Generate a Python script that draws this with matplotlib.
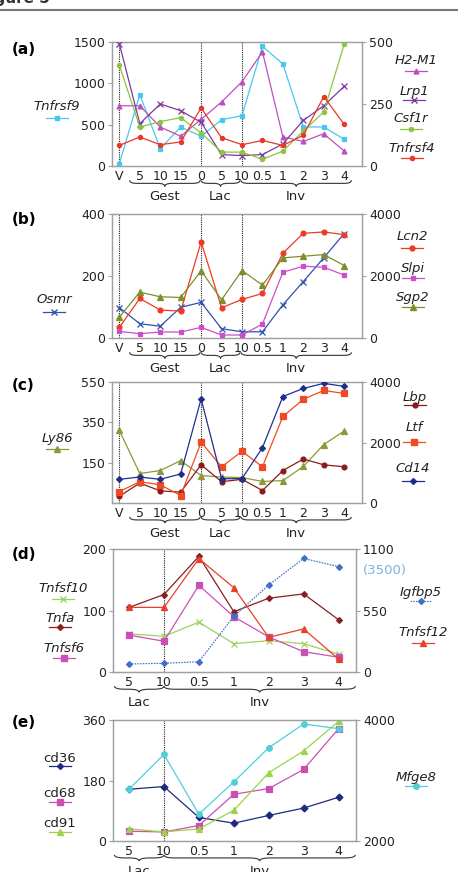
import numpy as np
import matplotlib
matplotlib.use("Agg")
import matplotlib.pyplot as plt
from matplotlib.lines import Line2D
from matplotlib.path import Path
from matplotlib.patches import PathPatch
import matplotlib.transforms as mtransforms

W, H = 458, 872

# ---- data ----
ticks_long = ["V", "5", "10", "15", "0", "5", "10", "0.5", "1", "2", "3", "4"]
ticks_short = ["5", "10", "0.5", "1", "2", "3", "4"]

# panel a (Tnfrsf9 left axis, others right axis)
tnfrsf9 = [28, 863, 210, 472, 359, 560, 609, 1448, 1234, 472, 472, 323]
h2m1 = [243, 243, 157, 120, 188, 258, 340, 460, 117, 99, 130, 60]
lrp1 = [493, 171, 250, 223, 176, 46, 42, 46, 89, 184, 243, 321]
csf1r = [406, 157, 179, 195, 133, 56, 56, 27, 60, 141, 218, 491]
tnfrsf4 = [83, 117, 86, 97, 234, 114, 86, 103, 83, 124, 280, 168]

# panel b (Osmr left, others right)
osmr = [98, 46, 38, 99, 115, 30, 20, 20, 107, 182, 259, 337]
lcn2 = [343, 1276, 901, 869, 3099, 976, 1244, 1437, 2735, 3378, 3421, 3335]
slpi = [214, 139, 193, 193, 343, 97, 97, 450, 2123, 2316, 2284, 2027]
sgp2 = [676, 1480, 1330, 1308, 2166, 1233, 2177, 1705, 2584, 2638, 2692, 2338]

# panel c (Ly86 left, others right)
ly86 = [310, 96, 111, 160, 86, 79, 76, 57, 61, 131, 240, 307]
lbp = [223, 659, 402, 358, 1263, 704, 782, 413, 1073, 1453, 1263, 1196]
ltf = [380, 704, 603, 246, 2011, 1196, 1709, 1196, 2860, 3430, 3721, 3620]
cd14 = [782, 860, 782, 961, 3441, 804, 804, 1832, 3520, 3788, 3955, 3855]

# panel d (Tnfsf10, Tnfa, Tnfsf6 left; Igfbp5, Tnfsf12 right)
tnfsf10 = [62, 58, 81, 46, 51, 46, 29]
tnfa = [105, 126, 188, 98, 120, 127, 85]
tnfsf6 = [60, 50, 141, 90, 57, 33, 24]
igfbp5 = [72, 78, 92, 498, 778, 1016, 942]
tnfsf12 = [578, 578, 1014, 754, 310, 385, 116]

# panel e (cd36, cd68, cd91 left; Mfge8 right)
cd36 = [154, 162, 70, 53, 76, 98, 130]
cd68 = [29, 27, 46, 139, 156, 213, 334]
cd91 = [36, 27, 36, 91, 203, 268, 356]
mfge8 = [2856, 3431, 2442, 2978, 3541, 3934, 3856]

braces_long = [("Gest", 0.5, 3.95), ("Lac", 4.0, 5.9), ("Inv", 5.95, 11.35)]
braces_short = [("Lac", -0.42, 1.0), ("Inv", 1.0, 6.48)]

GRAY = "#a0a0a0"
TXT = "#222222"


def px_axes(l, t, r, b):
    return plt.gcf().add_axes([l / W, 1 - b / H, (r - l) / W, (b - t) / H])


def style(ax, labels, xlim):
    for s in ax.spines.values():
        s.set_color(GRAY)
        s.set_linewidth(0.9)
    ax.set_xlim(*xlim)
    ax.set_xticks(range(len(labels)))
    ax.set_xticklabels(labels)
    ax.tick_params(axis="x", length=0, pad=3, labelsize=9, colors=TXT)
    ax.tick_params(axis="y", length=3, width=0.8, color=GRAY, pad=2,
                   labelsize=9, labelcolor=TXT)


def brace(ax, x0, x1, label, r):
    tr = mtransforms.blended_transform_factory(ax.transData, ax.transAxes)
    y0 = -0.115
    h = 0.05
    xm = (x0 + x1) / 2
    yh = y0 - h / 2
    verts = [(x0, y0), (x0, yh), (x0 + r, yh), (xm - r, yh), (xm, yh), (xm, y0 - h),
             (xm, yh), (xm + r, yh), (x1 - r, yh), (x1, yh), (x1, y0)]
    codes = [Path.MOVETO, Path.CURVE3, Path.CURVE3, Path.LINETO, Path.CURVE3, Path.CURVE3,
             Path.CURVE3, Path.CURVE3, Path.LINETO, Path.CURVE3, Path.CURVE3]
    ax.add_patch(PathPatch(Path(verts, codes), transform=tr, fill=False,
                           lw=0.8, color="#333333", clip_on=False))
    ax.text(xm, y0 - h - 0.03, label, transform=tr, ha="center", va="top",
            fontsize=9.5, color=TXT)


def vlines(ax, xs):
    for x in xs:
        ax.axvline(x, color="#222222", ls=(0, (1, 1)), lw=0.8, zorder=1)


def leg(xc, ty, ly, label, color, marker, ls="-", italic=True, ms=4):
    fig = plt.gcf()
    fig.text(xc / W, 1 - ty / H, label, ha="center", va="center", fontsize=9.5,
             style="italic" if italic else "normal", color=TXT)
    fig.add_artist(Line2D([(xc - 11) / W, xc / W, (xc + 11) / W], [1 - ly / H] * 3,
                          color=color, lw=0.9, ls=ls, marker=marker, ms=ms,
                          markevery=[1], transform=fig.transFigure))


def series(ax, y, color, marker, ls="-", ms=4):
    ax.plot(range(len(y)), y, color=color, marker=marker, ms=ms, lw=0.9, ls=ls,
            markeredgewidth=0.9, zorder=3)


fig = plt.figure(figsize=(W / 100, H / 100), dpi=100)

# header (cut off at the top, as in the source page)
fig.text(-0.045, 1 + 2 / H, "Figure 5", fontsize=11, fontweight="bold", ha="left",
         va="center", color="#333333")
fig.add_artist(Line2D([0, 1], [1 - 10 / H] * 2, color="#777777", lw=1.5,
                      transform=fig.transFigure))

xl = (-0.36, 11.87)
xs = (-0.46, 6.5)

# ---- (a) ----
ax = px_axes(112, 42, 362, 166)
style(ax, ticks_long, xl)
ax2 = ax.twinx()
style(ax2, ticks_long, xl)
vlines(ax, [0, 4, 6])
series(ax, tnfrsf9, "#48c8ee", "s", ms=3.5)
series(ax2, h2m1, "#bd4fbd", "^", ms=3.5)
series(ax2, lrp1, "#7b3a9e", "x", ms=4)
series(ax2, csf1r, "#8cc540", "o", ms=3)
series(ax2, tnfrsf4, "#e8382a", "o", ms=3)
ax.set_ylim(0, 1500)
ax.set_yticks([0, 500, 1000, 1500])
ax2.set_ylim(0, 500)
ax2.set_yticks([0, 250, 500])
for n, a, b in braces_long:
    brace(ax, a, b, n, 0.35)
fig.text(12 / W, 1 - 50 / H, "(a)", fontsize=11, fontweight="bold", va="center")
leg(57, 107, 118, "Tnfrsf9", "#48c8ee", "s", ms=3.5)
leg(416, 61, 71, "H2-M1", "#bd4fbd", "^", ms=3.5)
leg(414, 92, 100, "Lrp1", "#7b3a9e", "x")
leg(411, 118, 129, "Csf1r", "#8cc540", "o", ms=3)
leg(412, 148, 158, "Tnfrsf4", "#e8382a", "o", ms=3)

# ---- (b) ----
ax = px_axes(112, 214, 362, 338)
style(ax, ticks_long, xl)
ax2 = ax.twinx()
style(ax2, ticks_long, xl)
vlines(ax, [0, 4, 6])
series(ax, osmr, "#3050b0", "x", ms=4)
series(ax2, lcn2, "#ee3a24", "o", ms=3.5)
series(ax2, slpi, "#cc4fc8", "s", ms=3.5)
series(ax2, sgp2, "#7d8f2a", "^", ms=4)
ax.set_ylim(0, 400)
ax.set_yticks([0, 200, 400])
ax2.set_ylim(0, 4000)
ax2.set_yticks([0, 2000, 4000])
for n, a, b in braces_long:
    brace(ax, a, b, n, 0.35)
fig.text(12 / W, 1 - 220 / H, "(b)", fontsize=11, fontweight="bold", va="center")
leg(54, 299, 312, "Osmr", "#3050b0", "x")
leg(412, 237, 248, "Lcn2", "#ee3a24", "o", ms=3.5)
leg(413, 268, 278, "Slpi", "#cc4fc8", "s", ms=3.5)
leg(413, 297, 307, "Sgp2", "#7d8f2a", "^")

# ---- (c) ----
ax = px_axes(112, 382, 362, 503)
style(ax, ticks_long, xl)
ax2 = ax.twinx()
style(ax2, ticks_long, xl)
vlines(ax, [0, 4, 6])
series(ax, ly86, "#8a9a3a", "^", ms=4)
series(ax2, lbp, "#8b1a1a", "o", ms=3.5)
series(ax2, ltf, "#f04a24", "s", ms=4)
series(ax2, cd14, "#1f2f8f", "D", ms=3)
ax.set_ylim(-50, 550)
ax.set_yticks([150, 350, 550])
ax2.set_ylim(0, 4000)
ax2.set_yticks([0, 2000, 4000])
for n, a, b in braces_long:
    brace(ax, a, b, n, 0.35)
fig.text(12 / W, 1 - 386 / H, "(c)", fontsize=11, fontweight="bold", va="center")
leg(57, 438, 449, "Ly86", "#8a9a3a", "^")
leg(415, 397, 405, "Lbp", "#8b1a1a", "o", ms=3.5)
leg(414, 427, 442, "Ltf", "#f04a24", "s")
leg(413, 468, 481, "Cd14", "#1f2f8f", "D", ms=3)

# ---- (d) ----
ax = px_axes(113, 549, 356, 672)
style(ax, ticks_short, xs)
ax2 = ax.twinx()
style(ax2, ticks_short, xs)
vlines(ax, [1])
series(ax, tnfsf10, "#9cd35a", "x", ms=4)
series(ax, tnfa, "#8b1e1e", "D", ms=3)
series(ax, tnfsf6, "#cc4fb8", "s", ms=4)
series(ax2, igfbp5, "#3f6fc8", "D", ls=(0, (1.2, 1)), ms=3)
series(ax2, tnfsf12, "#e8402a", "^", ms=4)
ax.set_ylim(0, 200)
ax.set_yticks([0, 100, 200])
ax2.set_ylim(0, 1100)
ax2.set_yticks([0, 550, 1100])
for n, a, b in braces_short:
    brace(ax, a, b, n, 0.3)
fig.text(12 / W, 1 - 554 / H, "(d)", fontsize=11, fontweight="bold", va="center")
fig.text(385 / W, 1 - 570 / H, "(3500)", fontsize=9.5, color="#7fb0e0",
         ha="center", va="center")
leg(63, 588, 599, "Tnfsf10", "#9cd35a", "x")
leg(60, 618, 627, "Tnfa", "#8b1e1e", "D", ms=3)
leg(64, 648, 658, "Tnfsf6", "#cc4fb8", "s")
leg(421, 592, 601, "Igfbp5", "#3f6fc8", "D", ls=(0, (1.2, 1)), ms=3)
leg(423, 633, 643, "Tnfsf12", "#e8402a", "^")

# ---- (e) ----
ax = px_axes(113, 720, 356, 841)
style(ax, ticks_short, xs)
ax2 = ax.twinx()
style(ax2, ticks_short, xs)
vlines(ax, [1])
series(ax, cd36, "#1e2a80", "D", ms=3.5)
series(ax, cd68, "#cc4fb0", "s", ms=4)
series(ax, cd91, "#9cd34a", "^", ms=4.5)
series(ax2, mfge8, "#50cfd8", "o", ms=4)
ax.set_ylim(0, 360)
ax.set_yticks([0, 180, 360])
ax2.set_ylim(2000, 4000)
ax2.set_yticks([2000, 4000])
for n, a, b in braces_short:
    brace(ax, a, b, n, 0.3)
fig.text(12 / W, 1 - 722 / H, "(e)", fontsize=11, fontweight="bold", va="center")
leg(60, 758, 766, "cd36", "#1e2a80", "D", italic=False, ms=3)
leg(60, 793, 802, "cd68", "#cc4fb0", "s", italic=False)
leg(60, 823, 832, "cd91", "#9cd34a", "^", italic=False)
leg(416, 777, 786, "Mfge8", "#50cfd8", "o")

fig.savefig("out.png", dpi=100)
